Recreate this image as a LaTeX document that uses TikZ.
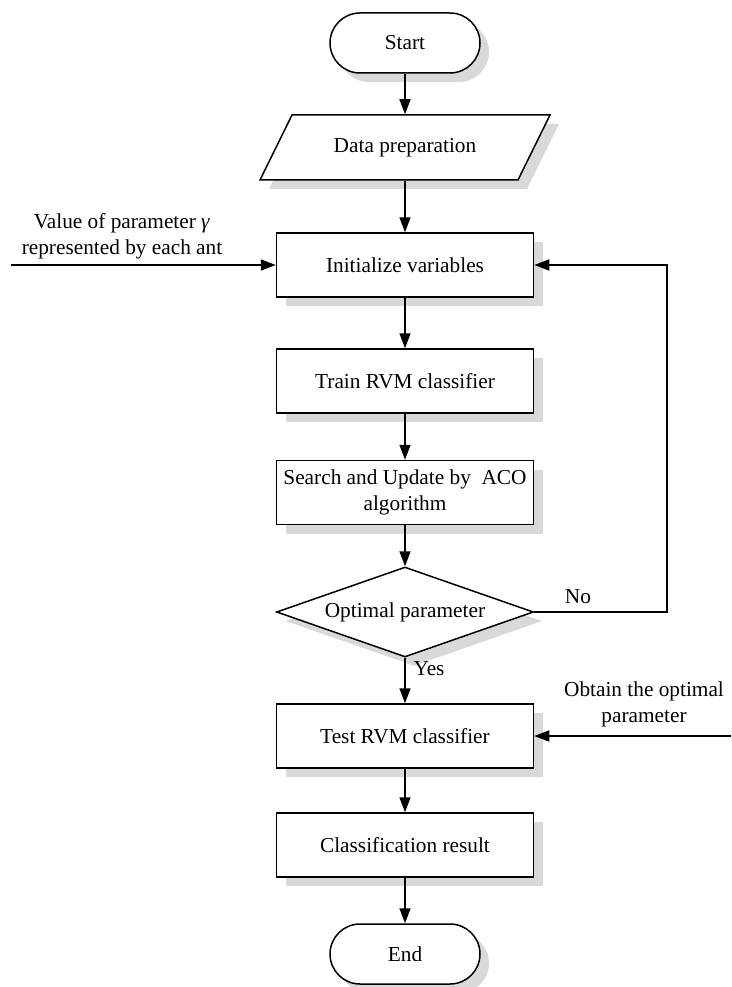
\documentclass[tikz,border=0pt]{standalone}
\usepackage{fontspec}
\setmainfont{Liberation Serif}
\usetikzlibrary{shapes.geometric,shadows,arrows.meta}
\begin{document}
\begin{tikzpicture}[x=1pt,y=-1pt,
  font=\fontsize{21.3}{26}\selectfont,
  line width=1.5pt,
  shad/.style={drop shadow={shadow xshift=9pt,shadow yshift=-9pt,fill=black!15,opacity=1}},
  procbox/.style={draw,fill=white,shad,minimum width=257pt,minimum height=64pt,inner sep=2pt,align=center},
  termbox/.style={draw,fill=white,shad,rounded corners=30pt,minimum width=150pt,minimum height=60pt,inner sep=0pt},
  decbox/.style={draw,fill=white,shad,diamond,aspect=2.86,minimum width=257pt,minimum height=90pt,inner sep=0pt},
  flow/.style={-{Triangle[length=15pt,width=11pt]},line width=1.5pt},
  lbl/.style={align=center,inner sep=0pt}]
\useasboundingbox (0,0) rectangle (731,987);

\node[termbox] (start) at (405,43) {Start};

% parallelogram (data preparation)
\fill[black!15] (301,124) -- (559,124) -- (527,189) -- (269,189) -- cycle;
\draw[fill=white] (292,115) -- (550,115) -- (518,180) -- (260,180) -- cycle;
\node[minimum width=250pt,minimum height=65pt,inner sep=0pt] (prep) at (405,147.5) {Data preparation};

\node[procbox] (init) at (405,265) {Initialize variables};
\node[procbox] (train) at (405,381) {Train RVM classifier};
\node[procbox] (search) at (405,492.5) {Search and Update by~~ACO\\algorithm};
\node[decbox] (opt) at (405,612) {Optimal parameter};
\node[procbox] (test) at (405,736) {Test RVM classifier};
\node[procbox] (cls) at (405,845) {Classification result};
\node[termbox] (end) at (405,954) {End};

\coordinate (lin) at (11,265);
\coordinate (rin) at (731,736);
\coordinate (loopb) at (667,612);
\coordinate (loopt) at (667,265);

\draw[flow] (start) -- (prep);
\draw[flow] (prep) -- (init);
\draw[flow] (init) -- (train);
\draw[flow] (train) -- (search);
\draw[flow] (search) -- (opt);
\draw[flow] (opt) -- (test);
\draw[flow] (test) -- (cls);
\draw[flow] (cls) -- (end);
\draw[flow] (opt.east) -- (loopb) -- (loopt) -- (init.east);
\draw[flow] (lin) -- (init.west);
\draw[flow] (rin) -- (test.east);

\node[lbl] (ltext) at (122,236) {Value of parameter \textit{γ}\\represented by each ant};
\node[lbl] (rtext) at (644,704) {Obtain the optimal\\parameter};
\node[lbl] (no) at (578,597) {No};
\node[lbl] (yes) at (429,669) {Yes};
\end{tikzpicture}
\end{document}
